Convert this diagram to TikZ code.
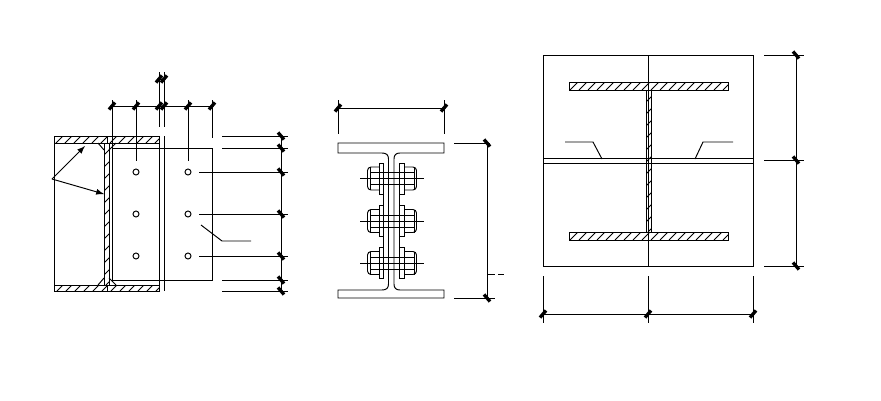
\documentclass[tikz,border=0pt]{standalone}
\tikzset{
  dimtick/.style={line width=1.9pt},
  cadline/.style={line width=0.55pt},
  hatchline/.style={line width=0.45pt},
}
\newcommand{\hatchbar}[5]{%
\begin{scope}
\clip(#1,#2)rectangle(#3,#4);
\pgfmathsetmacro{\hxa}{#1-(#4-#2)}
\pgfmathsetmacro{\hxb}{\hxa+#5}
\foreach \hx in {\hxa,\hxb,...,#3}{\draw[hatchline](\hx,#4)--++(#4-#2,#2-#4);}
\end{scope}
\draw(#1,#2)rectangle(#3,#4);}
\begin{document}
\begin{tikzpicture}[x=0.02cm,y=-0.02cm,cadline]
\useasboundingbox(0,0)rectangle(881,400);
% left view
\pgfmathsetmacro{\kflat}{136}
\pgfmathsetmacro{\kflab}{291}
\hatchbar{54}{136}{159}{143}{9}
\hatchbar{54}{285}{159}{291}{9}
\draw(54,\kflat)--(54,\kflab);
\draw(159,\kflat)--(159,\kflab);
\draw(164,\kflat)--(164,\kflab);
\hatchbar{104}{143}{109}{285}{12}
\draw(107,\kflat)--(107,143);
\draw(107,285)--(107,\kflab);
\draw(98,143)--(104,150);
\draw(116,143)--(109,150);
\draw(98,285)--(104,278);
\draw(116,285)--(109,278);
\draw(112,148)rectangle(212,280);
\foreach \kx in {136,188}{\foreach \ky in {172,214,256}{\draw(\kx,\ky)circle[radius=3];}}
\draw(201,225)--(222,241)--(251,241);
\draw[-latex](52,179)--(85,146);
\draw[-latex](52,179)--(104,194);
% left view dimensions
\draw(112,106)--(212,106);
\draw(159,79)--(164,79);
\draw(112,100)--(112,148);
\foreach \kx in {136,188}{\draw(\kx,100)--(\kx,161);}
\draw(212,100)--(212,138);
\foreach \kx in {159,164}{\draw(\kx,72)--(\kx,127);}
\foreach \kx in {112,136,159,164,188,212}{\draw[dimtick](\kx,106)++(-3,3.5)--++(6,-7);}
\foreach \kx in {159,164}{\draw[dimtick](\kx,79)++(-3,3.5)--++(6,-7);}
\draw(281,136)--(281,291);
\foreach \ky in {136,148,280,291}{\draw(222,\ky)--(288,\ky);}
\foreach \ky in {172,214,256}{\draw(199,\ky)--(288,\ky);}
\foreach \ky in {136,148,172,214,256,280,291}{\draw[dimtick](281,\ky)++(-3,-3.5)--++(6,7);}
% middle view
\draw(338,143)--(444,143)--(444,153)--(400,153)..controls(396,153)and(394,155)..(394,159)--(394,284)..controls(394,288)and(396,290)..(400,290)--(444,290)--(444,298)--(338,298)--(338,290)--(382,290)..controls(386.5,290)and(388.5,288)..(388.5,284)--(388.5,159)..controls(388.5,155)and(386.5,153)..(382,153)--(338,153)--cycle;
\draw(383.5,163)--(383.5,279);
\draw(399.5,163)--(399.5,279);
\foreach \kb in {178.5,221,263}{
\draw(379,\kb-15.5)rectangle(383.5,\kb+15.5);
\draw(399.5,\kb-15.5)rectangle(404,\kb+15.5);
\draw[rounded corners=2pt](379,\kb-11.5)--(367.5,\kb-11.5)--(367.5,\kb+11.5)--(379,\kb+11.5);
\draw[rounded corners=2pt](404,\kb-11.5)--(416.5,\kb-11.5)--(416.5,\kb+11.5)--(404,\kb+11.5);
\draw(370,\kb-11.5)--(370,\kb+11.5);
\draw(414,\kb-11.5)--(414,\kb+11.5);
\draw(370,\kb-6)--(414,\kb-6);
\draw(370,\kb+6)--(414,\kb+6);
\draw(360,\kb)--(424,\kb);
}
% middle view dimensions
\draw(338,108)--(444,108);
\foreach \kx in {338,444}{\draw(\kx,100)--(\kx,134);\draw[dimtick](\kx,108)++(-3,3.5)--++(6,-7);}
\draw(487,143)--(487,298);
\draw(454,143)--(490,143);
\draw(454,298)--(495,298);
\foreach \ky in {143,298}{\draw[dimtick](487,\ky)++(-3,-3.5)--++(6,7);}
\draw(487,274)--(495,274);
\draw(498,274)--(504,274);
% right view
\draw(543,55)rectangle(753,266);
\draw(543,158)--(753,158);
\draw(543,163)--(753,163);
\hatchbar{569}{82}{728}{90}{9}
\hatchbar{569}{232}{728}{240}{9}
\hatchbar{646}{90}{651.5}{232}{12}
\draw(648,55)--(648,266);
\draw(565,142)--(593,142)--(602,159);
\draw(733,142)--(703,142)--(695,159);
% right view dimensions
\draw(796,55)--(796,266);
\foreach \ky in {55,160,266}{\draw(764,\ky)--(804,\ky);\draw[dimtick](796,\ky)++(-3,-3.5)--++(6,7);}
\draw(543,314)--(753,314);
\foreach \kx in {543,648,753}{\draw(\kx,276)--(\kx,323);\draw[dimtick](\kx,314)++(-3,3.5)--++(6,-7);}
\end{tikzpicture}
\end{document}
